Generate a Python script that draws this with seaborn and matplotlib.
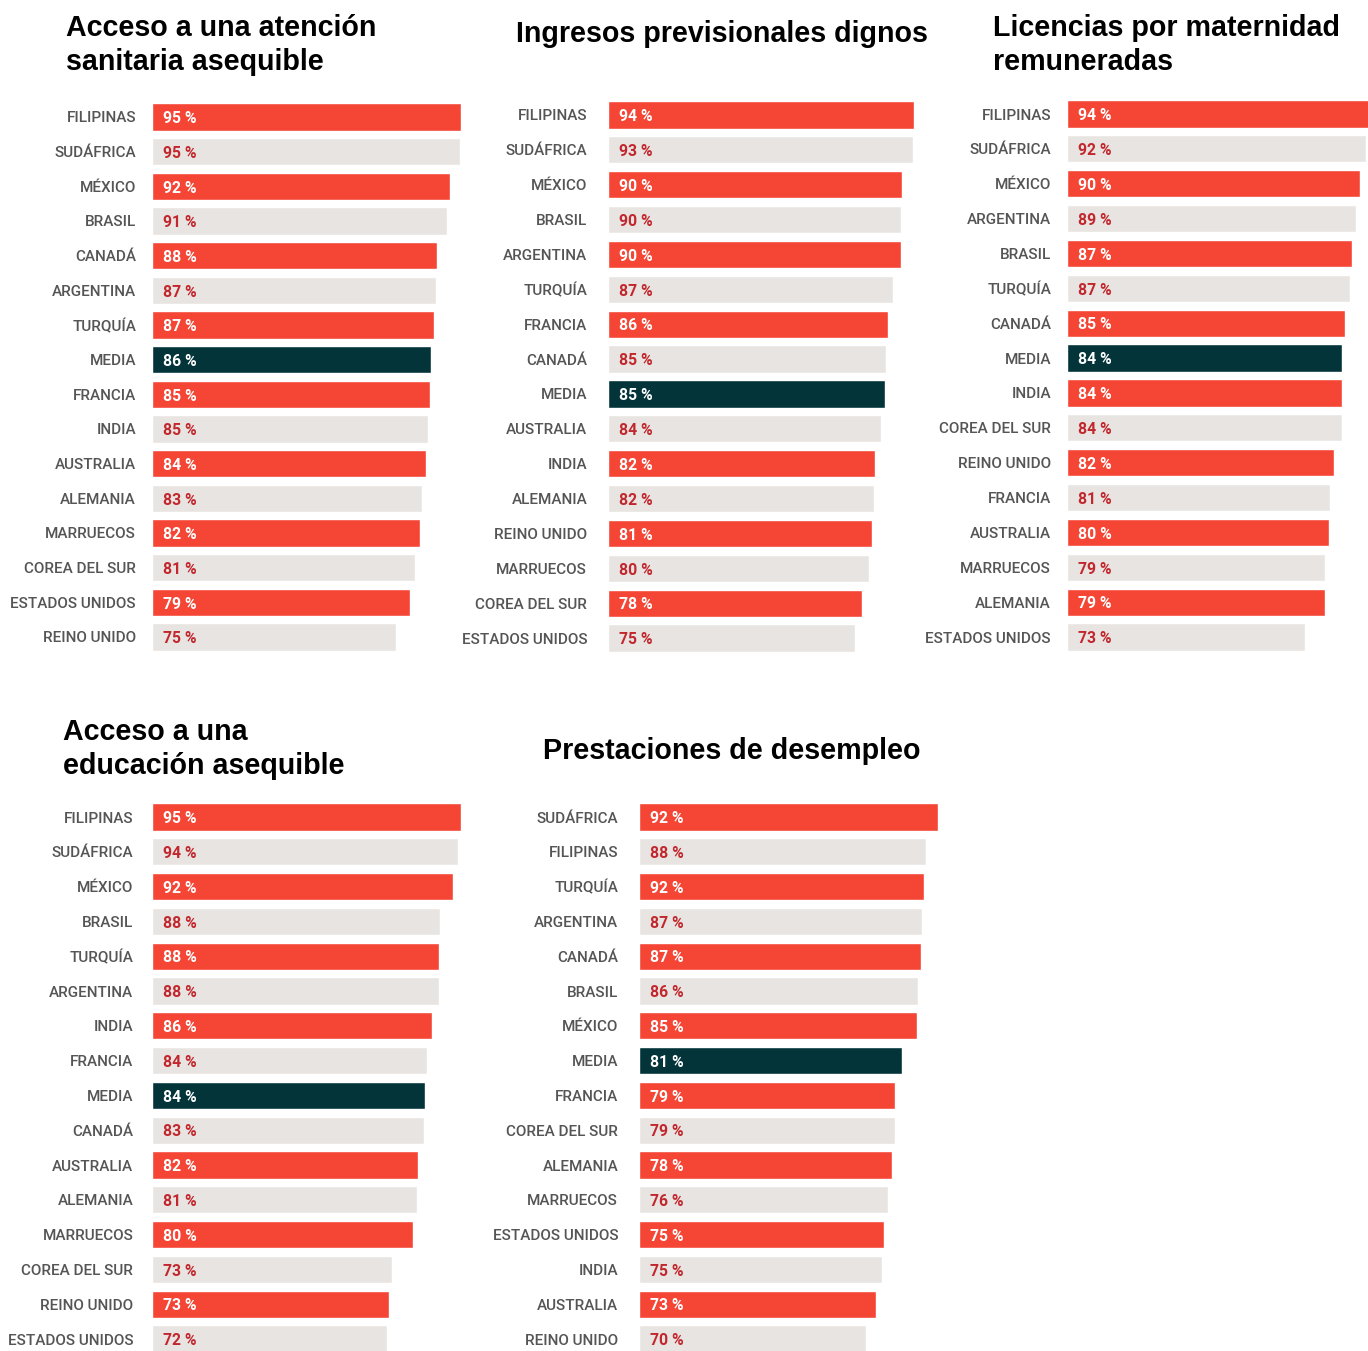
import matplotlib
matplotlib.use("Agg")
import matplotlib.pyplot as plt
import seaborn as sns
import pandas as pd

# ── Colours ──────────────────────────────────────────────────────────────────
RED = "#F44535"
GREY = "#E8E4E1"
TEAL = "#02343A"
TXT_RED = "#C1272D"
LABEL = "#555555"

W, H = 1368, 1351

# ── Data ─────────────────────────────────────────────────────────────────────
t1 = "Acceso a una atención\nsanitaria asequible"
c1 = ["FILIPINAS", "SUDÁFRICA", "MÉXICO", "BRASIL", "CANADÁ", "ARGENTINA", "TURQUÍA",
      "MEDIA", "FRANCIA", "INDIA", "AUSTRALIA", "ALEMANIA", "MARRUECOS",
      "COREA DEL SUR", "ESTADOS UNIDOS", "REINO UNIDO"]
v1 = [95, 94.8, 91.7, 90.8, 87.7, 87.4, 86.8, 85.8, 85.5, 84.9, 84.3, 83, 82.4, 80.9, 79.3, 75]
l1 = [95, 95, 92, 91, 88, 87, 87, 86, 85, 85, 84, 83, 82, 81, 79, 75]

t2 = "Ingresos previsionales dignos"
c2 = ["FILIPINAS", "SUDÁFRICA", "MÉXICO", "BRASIL", "ARGENTINA", "TURQUÍA", "FRANCIA",
      "CANADÁ", "MEDIA", "AUSTRALIA", "INDIA", "ALEMANIA", "REINO UNIDO",
      "MARRUECOS", "COREA DEL SUR", "ESTADOS UNIDOS"]
v2 = [94, 93.7, 90.6, 90.3, 90, 87.6, 86, 85.4, 85.1, 83.9, 82.3, 81.7, 81.1, 80.2, 78, 75.9]
l2 = [94, 93, 90, 90, 90, 87, 86, 85, 85, 84, 82, 82, 81, 80, 78, 75]

t3 = "Licencias por maternidad\nremuneradas"
c3 = ["FILIPINAS", "SUDÁFRICA", "MÉXICO", "ARGENTINA", "BRASIL", "TURQUÍA", "CANADÁ",
      "MEDIA", "INDIA", "COREA DEL SUR", "REINO UNIDO", "FRANCIA", "AUSTRALIA",
      "MARRUECOS", "ALEMANIA", "ESTADOS UNIDOS"]
v3 = [94, 92, 90.3, 89, 87.6, 87.2, 85.4, 84.5, 84.5, 84.5, 82, 80.8, 80.5, 79.3, 79.3, 73.1]
l3 = [94, 92, 90, 89, 87, 87, 85, 84, 84, 84, 82, 81, 80, 79, 79, 73]

t4 = "Acceso a una\neducación asequible"
c4 = ["FILIPINAS", "SUDÁFRICA", "MÉXICO", "BRASIL", "TURQUÍA", "ARGENTINA", "INDIA",
      "FRANCIA", "MEDIA", "CANADÁ", "AUSTRALIA", "ALEMANIA", "MARRUECOS",
      "COREA DEL SUR", "REINO UNIDO", "ESTADOS UNIDOS"]
v4 = [95, 94, 92.6, 88.6, 88.3, 88.3, 86.1, 84.6, 84, 83.7, 81.8, 81.5, 80.3, 73.8, 72.9, 72.3]
l4 = [95, 94, 92, 88, 88, 88, 86, 84, 84, 83, 82, 81, 80, 73, 73, 72]

t5 = "Prestaciones de desempleo"
c5 = ["SUDÁFRICA", "FILIPINAS", "TURQUÍA", "ARGENTINA", "CANADÁ", "BRASIL", "MÉXICO",
      "MEDIA", "FRANCIA", "COREA DEL SUR", "ALEMANIA", "MARRUECOS", "ESTADOS UNIDOS",
      "INDIA", "AUSTRALIA", "REINO UNIDO"]
v5 = [92, 88.3, 87.7, 87.1, 86.8, 85.8, 85.5, 80.9, 78.8, 78.8, 77.8, 76.6, 75.4, 74.8, 72.9, 69.8]
l5 = [92, 88, 92, 87, 87, 86, 85, 81, 79, 79, 78, 76, 75, 75, 73, 70]

sns.set_theme(style="white")
plt.rcParams["font.family"] = ["Liberation Sans", "DejaVu Sans"]
SMALL = ["Roboto", "Liberation Sans", "DejaVu Sans"]

fig = plt.figure(figsize=(W / 100, H / 100), dpi=100, facecolor="white")


def panel(countries, values, labels, left, first_c, last_c, pad):
    """Draw one ranking; positions in pixels of the figure."""
    n = len(countries)
    step = (last_c - first_c) / (n - 1)
    top = first_c - step / 2
    height = step * n
    ax = fig.add_axes([left / W, 1 - (top + height) / H, 325 / W, height / H])
    colors = {}
    for i, c in enumerate(countries):
        colors[c] = TEAL if c == "MEDIA" else (RED if i % 2 == 0 else GREY)
    df = pd.DataFrame({"pais": countries, "valor": values})
    sns.barplot(data=df, x="valor", y="pais", hue="pais", palette=colors,
                legend=False, width=0.78, saturation=1, ax=ax)
    for i, (c, lab) in enumerate(zip(countries, labels)):
        tc = TXT_RED if colors[c] == GREY else "white"
        ax.text(3.4, i + 0.05, f"{lab} %", va="center", ha="left", family=SMALL,
                fontsize=11.3, fontweight="bold", color=tc)
    ax.set_xlim(0, 100)
    ax.set_ylim(n - 0.5, -0.5)
    ax.set_xlabel("")
    ax.set_ylabel("")
    ax.set_xticks([])
    ax.tick_params(axis="y", length=0, pad=pad, labelsize=11, labelcolor=LABEL)
    for t in ax.get_yticklabels():
        t.set_family(SMALL)
        t.set_fontweight("medium")
    ax.set_facecolor("none")
    for s in ax.spines.values():
        s.set_visible(False)
    return ax


def title(text, x, baseline):
    for k, line in enumerate(text.split("\n")):
        fig.text(x / W, 1 - (baseline + k * 34.5) / H, line, ha="left", va="baseline",
                 fontsize=20.6, fontweight="bold", color="black")


panel(c1, v1, l1, 152, 117, 637, 11.5)
panel(c2, v2, l2, 608, 115, 638, 15)
panel(c3, v3, l3, 1067, 114, 637, 11.5)
panel(c4, v4, l4, 152, 817, 1339, 13.5)
panel(c5, v5, l5, 639, 817, 1339, 15)

title(t1, 66, 36)
title(t2, 516, 42)
title(t3, 993, 36)
title(t4, 63, 740)
title(t5, 543, 759)

fig.savefig("out.png", dpi=100, facecolor="white")
